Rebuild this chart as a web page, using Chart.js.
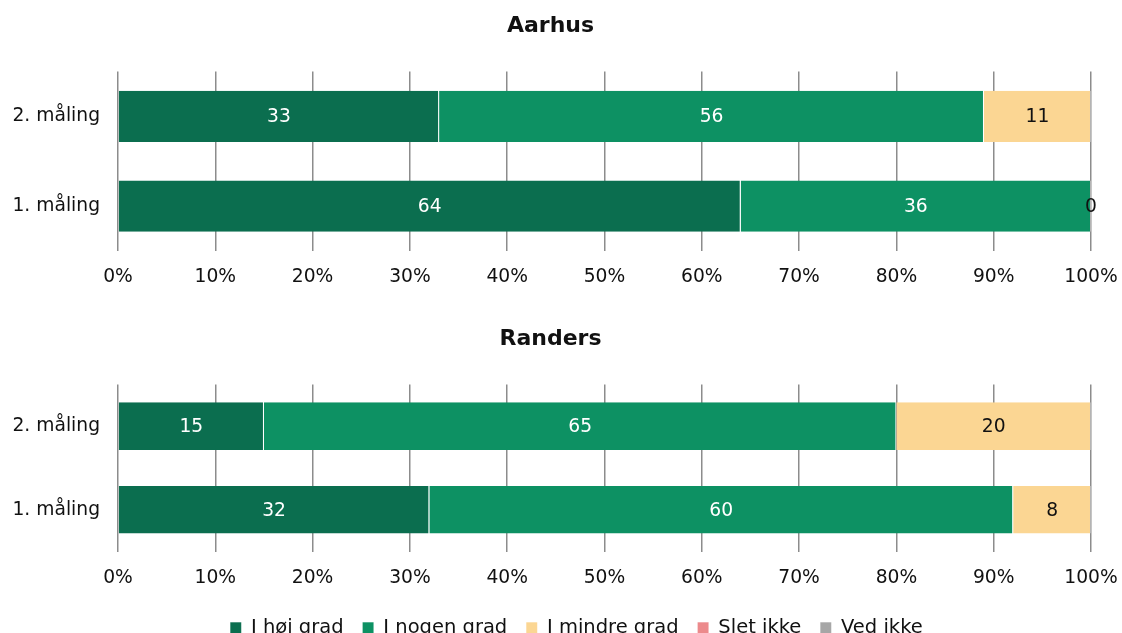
<!DOCTYPE html>
<html lang="da">
<head>
<meta charset="utf-8">
<title>Aarhus og Randers</title>
<script src="https://cdn.jsdelivr.net/npm/chart.js@4.4.1/dist/chart.umd.min.js"></script>
<style>
  html, body { margin: 0; padding: 0; background: #fff; overflow: hidden; }
  body { width: 1122px; height: 633px; position: relative; }
  .panel { position: absolute; left: 0; width: 1122px; }
  #p1 { top: 0; height: 300px; }
  #p2 { top: 300px; height: 348px; }
</style>
</head>
<body>
<div class="panel" id="p1"><canvas id="aarhus"></canvas></div>
<div class="panel" id="p2"><canvas id="randers"></canvas></div>
<script>
// Målinger (rækker i hvert panel)
const categories = ['2. måling', '1. måling'];

// Svarkategorier
const seriesNames = ['I høj grad', 'I nogen grad', 'I mindre grad', 'Slet ikke', 'Ved ikke'];

// Aarhus, procent pr. måling
const aarhusHoej   = [33, 64];
const aarhusNogen  = [56, 36];
const aarhusMindre = [11, 0];
const aarhusSlet   = [null, null];
const aarhusVed    = [null, null];

// Randers, procent pr. måling
const randersHoej   = [15, 32];
const randersNogen  = [65, 60];
const randersMindre = [20, 8];
const randersSlet   = [null, null];
const randersVed    = [null, null];

// Akseetiketter
const xTicks = [0, 10, 20, 30, 40, 50, 60, 70, 80, 90, 100];

const colors = ['#0b6e4f', '#0d9163', '#fbd693', '#ec8a8c', '#a6a6a6'];
const valueColors = ['#ffffff', '#ffffff', '#111111', '#111111', '#111111'];
const FONT = '"DejaVu Sans", Verdana, sans-serif';
const TEXT_SIZE = 18.7;

// Tal midt i hvert søjlesegment
const barValueLabels = {
  id: 'barValueLabels',
  afterDatasetsDraw(chart) {
    const ctx = chart.ctx;
    ctx.save();
    ctx.font = TEXT_SIZE + 'px ' + FONT;
    ctx.textAlign = 'center';
    ctx.textBaseline = 'middle';
    chart.data.datasets.forEach((ds, di) => {
      const meta = chart.getDatasetMeta(di);
      if (meta.hidden) return;
      meta.data.forEach((bar, i) => {
        const v = ds.data[i];
        if (v === null || v === undefined) return;
        const p = bar.getCenterPoint();
        ctx.fillStyle = valueColors[di];
        ctx.fillText(String(v), p.x, p.y + 1);
      });
    });
    ctx.restore();
  }
};

// Forklaringen centreres under hele figuren inkl. akseetiketter
const legendShift = {
  id: 'legendShift',
  afterLayout(chart) {
    if (chart.legend && chart.legend.options.display) {
      chart.legend.left += 26;
      chart.legend.right += 26;
    }
  }
};

function makeDatasets(values) {
  return values.map((data, i) => ({
    label: seriesNames[i],
    data: data,
    backgroundColor: colors[i],
    borderColor: 'rgba(255,255,255,0.35)',
    borderWidth: { top: 0, bottom: 0, left: 0, right: 1 },
    borderSkipped: false,
    barPercentage: 0.57,
    categoryPercentage: 1.0
  }));
}

function makeChart(canvasId, title, values, opts) {
  return new Chart(document.getElementById(canvasId), {
    type: 'bar',
    data: { labels: categories, datasets: makeDatasets(values) },
    plugins: [barValueLabels, legendShift],
    options: {
      indexAxis: 'y',
      responsive: true,
      maintainAspectRatio: false,
      animation: false,
      layout: { padding: { left: 10, right: 31, top: 0, bottom: 0 } },
      plugins: {
        title: {
          display: true,
          text: title,
          color: '#111',
          font: { family: FONT, size: 22, weight: 'bold' },
          padding: { top: opts.titleTop, bottom: 32 }
        },
        legend: {
          display: opts.legend,
          position: 'bottom',
          labels: {
            color: '#111',
            font: { family: FONT, size: 19.5 },
            boxWidth: 11,
            boxHeight: 12,
            padding: 19
          }
        },
        tooltip: { enabled: false }
      },
      scales: {
        x: {
          stacked: true,
          min: 0,
          max: 100,
          afterBuildTicks(scale) { scale.ticks = xTicks.map(v => ({ value: v })); },
          afterFit(scale) {
            scale.height = opts.xHeight;
            scale.paddingLeft = 0;
            scale.paddingRight = 0;
          },
          ticks: {
            color: '#111',
            font: { family: FONT, size: TEXT_SIZE },
            padding: 15,
            maxRotation: 0,
            callback: v => v + '%'
          },
          grid: { color: '#8c8c8c', lineWidth: 1.5, drawTicks: false },
          border: { display: false }
        },
        y: {
          stacked: true,
          afterFit(scale) { scale.width = 108; },
          ticks: {
            color: '#111',
            font: { family: FONT, size: TEXT_SIZE },
            padding: 18
          },
          grid: { display: false, drawTicks: false },
          border: { display: false }
        }
      }
    }
  });
}

makeChart('aarhus', 'Aarhus',
  [aarhusHoej, aarhusNogen, aarhusMindre, aarhusSlet, aarhusVed],
  { titleTop: 13, legend: false, xHeight: 49 });

makeChart('randers', 'Randers',
  [randersHoej, randersNogen, randersMindre, randersSlet, randersVed],
  { titleTop: 26, legend: true, xHeight: 48 });
</script>
</body>
</html>
